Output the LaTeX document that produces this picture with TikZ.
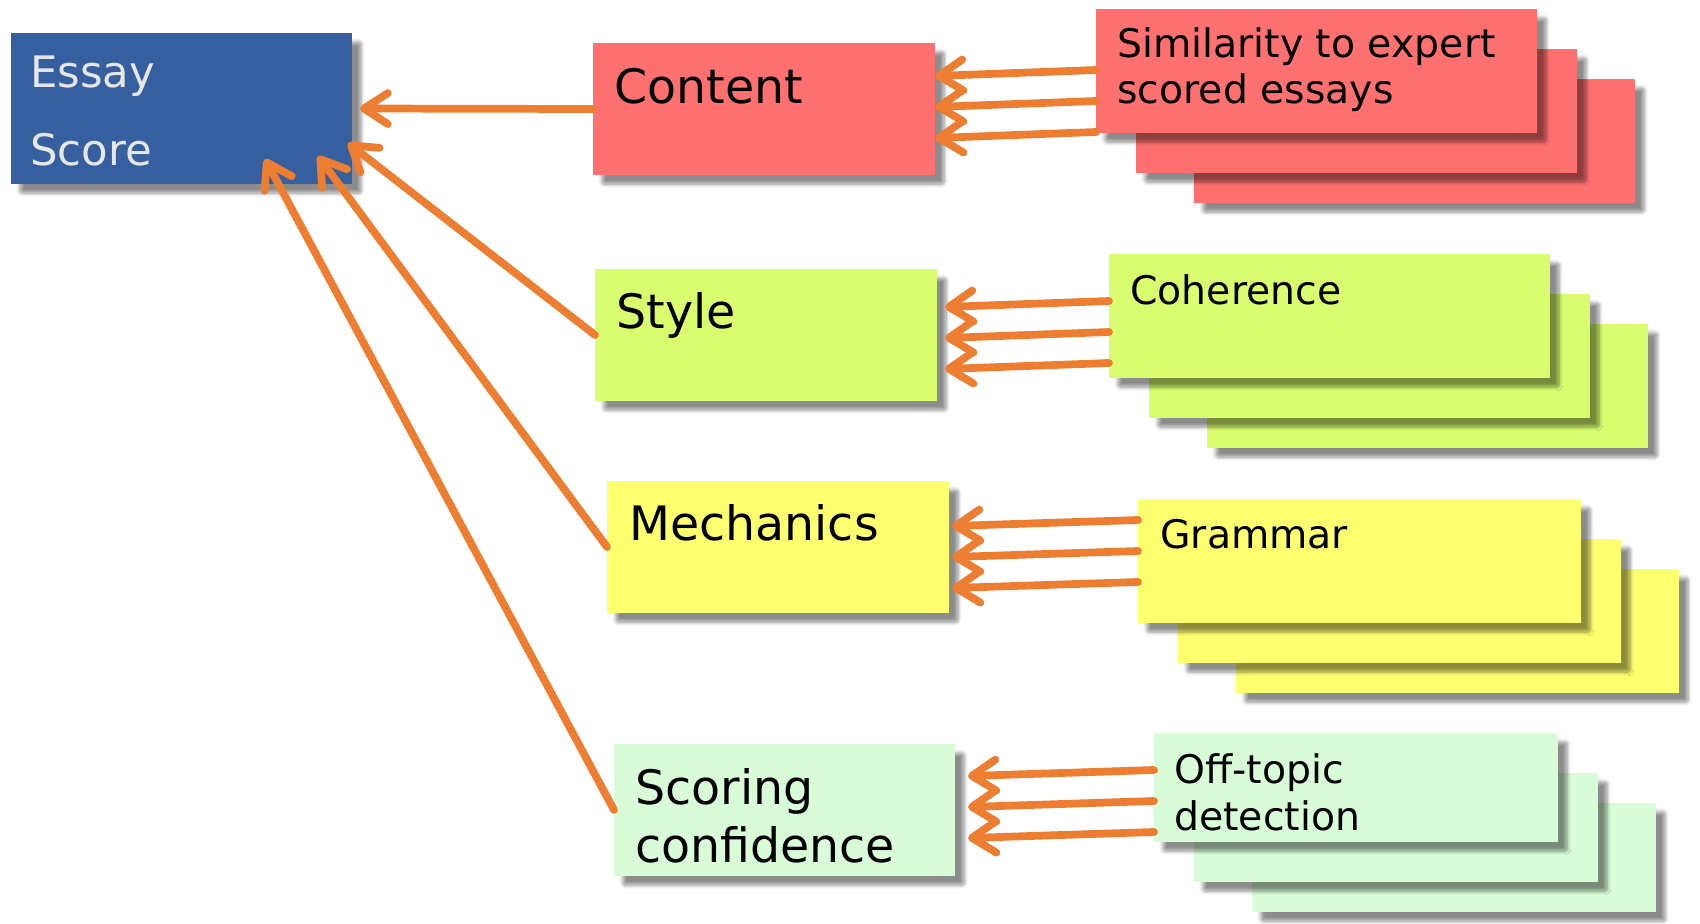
\documentclass[tikz,border=0pt]{standalone}
\usepackage{fontspec}
\setmainfont{DejaVu Sans}
\usetikzlibrary{arrows.meta,shadows.blur,calc}

\definecolor{scoreblue}{HTML}{365F9F}
\definecolor{scoretext}{HTML}{E6E6E6}
\definecolor{contentred}{HTML}{FF7070}
\definecolor{stylegreen}{HTML}{D9FD6E}
\definecolor{mechyellow}{HTML}{FFFF70}
\definecolor{confgreen}{HTML}{D8FCD8}
\definecolor{feedorange}{HTML}{ED7D31}

\begin{document}
\begin{tikzpicture}[x=0.02cm,y=-0.02cm,
    box/.style={anchor=north west, inner sep=0pt, outer sep=0pt,
        blur shadow={shadow xshift=0.18cm, shadow yshift=-0.18cm, shadow opacity=45, shadow blur steps=6, shadow blur extra rounding=1pt}},
    feed/.style={draw=feedorange, line width=4.4pt, line cap=round,
        -{Straight Barb[length=0.48cm,width=0.62cm,round]}},
    bigtext/.style={anchor=base west, inner sep=0pt, font=\fontsize{27}{32}\selectfont},
    smalltext/.style={anchor=base west, inner sep=0pt, font=\fontsize{22.4}{26}\selectfont}]

    % Fix the page to the size of the reference
    \useasboundingbox (0,0) rectangle (1700,923);

    % The score box on the left
    \node[box, fill=scoreblue, minimum width=341*0.02cm, minimum height=151*0.02cm] (essay) at (11,33) {};
    \node[bigtext, text=scoretext, font=\fontsize{24.7}{30}\selectfont] (essay-t1) at ([shift={(19,54)}]essay.north west) {Essay};
    \node[bigtext, text=scoretext, font=\fontsize{24.7}{30}\selectfont] (essay-t2) at ([shift={(19,132)}]essay.north west) {Score};

    % The four feature groups in the middle
    \node[box, fill=contentred, minimum width=342*0.02cm, minimum height=132*0.02cm] (content) at (593,43) {};
    \node[box, fill=stylegreen, minimum width=342*0.02cm, minimum height=132*0.02cm] (style) at (595,269) {};
    \node[box, fill=mechyellow, minimum width=342*0.02cm, minimum height=132*0.02cm] (mech) at (607,481) {};
    \node[box, fill=confgreen, minimum width=341*0.02cm, minimum height=132*0.02cm] (conf) at (614,744) {};

    \node[bigtext] (content-t) at ([shift={(21,60)}]content.north west) {Content};
    \node[bigtext] (style-t) at ([shift={(21,59)}]style.north west) {Style};
    \node[bigtext] (mech-t) at ([shift={(22,59)}]mech.north west) {Mechanics};
    \node[bigtext] (conf-t1) at ([shift={(21,60)}]conf.north west) {Scoring};
    \node[bigtext] (conf-t2) at ([shift={(21,118)}]conf.north west) {confidence};

    % Stacks of cards on the right, back card first
    \foreach \n/\x/\y/\w/\h/\c in {sim/1096/9/441/124/contentred, coh/1109/254/441/124/stylegreen,
        gram/1138/499/443/124/mechyellow, off/1154/733/404/109/confgreen}{
        \foreach \dx/\dy/\k in {98/70/3, 40/40/2, 0/0/1}
            \node[box, fill=\c, minimum width=\w*0.02cm, minimum height=\h*0.02cm] (\n\k) at (\x+\dx,\y+\dy) {};
    }

    \node[smalltext] (sim-t1) at ([shift={(21,48)}]sim1.north west) {Similarity to expert};
    \node[smalltext] (sim-t2) at ([shift={(21,94)}]sim1.north west) {scored essays};
    \node[smalltext] (coh-t) at ([shift={(21,50)}]coh1.north west) {Coherence};
    \node[smalltext] (gram-t) at ([shift={(22,49)}]gram1.north west) {Grammar};
    \node[smalltext] (off-t1) at ([shift={(20,50)}]off1.north west) {Off-topic};
    \node[smalltext] (off-t2) at ([shift={(20,97)}]off1.north west) {detection};

    % Three arrows from each stack into its group
    \foreach \l/\r/\xo/\yo in {content/sim1/0/-33, style/coh1/8/-28, mech/gram1/3/-21, conf/off1/13/-34}{
        \foreach \s in {0,31,62}{
            \coordinate (tip) at ($(\l.east)+(\xo,\yo+\s)$);
            \draw[feed] ($(\r.west|-tip)+(0,-6)$) -- (tip);
        }
    }

    % Arrows from the groups into the score
    \coordinate (in1) at ($(essay.east)+(8,0)$);
    \coordinate (in2) at ($(essay.south east)+(-4,-41)$);
    \coordinate (in3) at ($(essay.south east)+(-34,-28)$);
    \coordinate (in4) at ($(essay.south east)+(-87,-25)$);

    \draw[feed] (content.west) -- (in1);
    \draw[feed] (style.west) -- (in2);
    \draw[feed] (mech.west) -- (in3);
    \draw[feed] (conf.west) -- (in4);

\end{tikzpicture}
\end{document}
